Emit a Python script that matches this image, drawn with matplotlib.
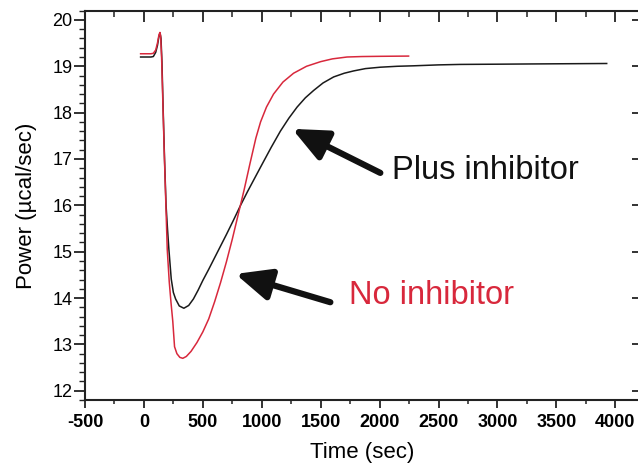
import matplotlib.pyplot as plt
from matplotlib.ticker import MultipleLocator

# Heat-flow traces (time in sec, power in ucal/sec)
time_no_inh = [-28, 60, 80, 100, 115, 128, 136, 142, 150, 160, 172, 185, 198,
               215, 230, 245, 260, 280, 305, 330, 360, 400, 450, 500, 550, 600,
               650, 700, 750, 800, 850, 900, 950, 990, 1040, 1100, 1180, 1270,
               1380, 1500, 1600, 1724, 1850, 2006, 2246]
power_no_inh = [19.27, 19.27, 19.28, 19.35, 19.5, 19.68, 19.73, 19.65, 19.2,
                18.3, 17.2, 16.13, 15.05, 14.35, 13.9, 13.5, 12.95, 12.8, 12.72,
                12.70, 12.74, 12.85, 13.04, 13.27, 13.55, 13.92, 14.33, 14.78,
                15.27, 15.8, 16.33, 16.9, 17.45, 17.8, 18.12, 18.4, 18.66,
                18.85, 19.0, 19.1, 19.16, 19.2, 19.21, 19.215, 19.22]

time_inh = [-28, 60, 80, 100, 115, 128, 137, 145, 153, 163, 175, 188, 200, 212,
            232, 250, 269, 300, 339, 380, 420, 460, 500, 550, 600, 650, 700,
            760, 820, 880, 947, 1010, 1080, 1158, 1230, 1300, 1370, 1441, 1520,
            1610, 1700, 1780, 1880, 2006, 2150, 2288, 2500, 2684, 3000, 3277,
            3600, 3927]
power_inh = [19.2, 19.2, 19.21, 19.3, 19.45, 19.65, 19.72, 19.6, 19.1, 18.1,
             17.0, 16.0, 15.5, 15.05, 14.41, 14.12, 13.98, 13.83, 13.78, 13.84,
             13.98, 14.17, 14.38, 14.62, 14.87, 15.12, 15.37, 15.68, 16.0,
             16.3, 16.62, 16.92, 17.25, 17.6, 17.88, 18.12, 18.32, 18.48,
             18.64, 18.77, 18.85, 18.9, 18.95, 18.98, 19.0, 19.01, 19.03,
             19.04, 19.045, 19.05, 19.055, 19.06]

RED = '#d8283c'
INK = '#222222'

plt.rcParams['font.family'] = 'Liberation Sans'
plt.rcParams['axes.unicode_minus'] = False

fig = plt.figure(figsize=(6.38, 4.63), dpi=100)
ax = fig.add_axes([0.1332, 0.136, 0.870, 0.841])

ax.plot(time_inh, power_inh, color='#1a1a1a', lw=1.1)
ax.plot(time_no_inh, power_no_inh, color=RED, lw=1.1)

ax.set_xlim(-500, 4210)
ax.set_ylim(11.8, 20.2)

ax.xaxis.set_major_locator(MultipleLocator(500))
ax.xaxis.set_minor_locator(MultipleLocator(250))
ax.yaxis.set_major_locator(MultipleLocator(1))
ax.yaxis.set_minor_locator(MultipleLocator(0.2))

for side in ['left', 'bottom', 'top']:
    ax.spines[side].set_linewidth(1.5)
    ax.spines[side].set_color(INK)
ax.spines['right'].set_visible(False)

ax.tick_params(axis='x', which='major', direction='out', length=6, width=1.3,
               labelsize=13, pad=4, color=INK)
ax.tick_params(axis='x', which='minor', direction='out', length=3, width=1.1,
               color=INK)
ax.tick_params(axis='y', which='major', direction='out', length=8, width=1.3,
               labelsize=13, pad=1, color=INK)
ax.tick_params(axis='y', which='minor', direction='out', length=4, width=1.0,
               color=INK)
for lbl in ax.get_xticklabels():
    lbl.set_fontweight('bold')

# inward ticks along the top and right edges
top = ax.secondary_xaxis('top')
top.xaxis.set_major_locator(MultipleLocator(500))
top.xaxis.set_minor_locator(MultipleLocator(250))
top.tick_params(which='major', direction='in', length=8, width=1.3,
                labeltop=False, color=INK)
top.tick_params(which='minor', direction='in', length=4, width=1.1, color=INK)
top.spines['top'].set_visible(False)

right = ax.secondary_yaxis('right')
right.yaxis.set_major_locator(MultipleLocator(1))
right.yaxis.set_minor_locator(MultipleLocator(0.2))
right.tick_params(which='major', direction='in', length=6, width=1.3,
                  labelright=False, color=INK)
right.tick_params(which='minor', direction='in', length=0, color=INK)
right.spines['right'].set_visible(False)

ax.set_xlabel('Time (sec)', fontsize=16, labelpad=8)
ax.set_ylabel('Power (\u00b5cal/sec)', fontsize=16, labelpad=11)

arrow = dict(arrowstyle='-|>,head_length=0.85,head_width=0.38', lw=4.5,
             color='#111111', shrinkA=0, shrinkB=0, mutation_scale=25)
ax.annotate('', xy=(1258, 17.65), xytext=(2006, 16.70), arrowprops=arrow)
ax.annotate('', xy=(777, 14.52), xytext=(1582, 13.91), arrowprops=arrow)

ax.text(2105, 16.56, 'Plus inhibitor', fontsize=23.5, color='#111111',
        va='baseline', ha='left')
ax.text(1743, 13.87, 'No inhibitor', fontsize=23.5, color=RED,
        va='baseline', ha='left')

fig.savefig('out.png', dpi=100)
